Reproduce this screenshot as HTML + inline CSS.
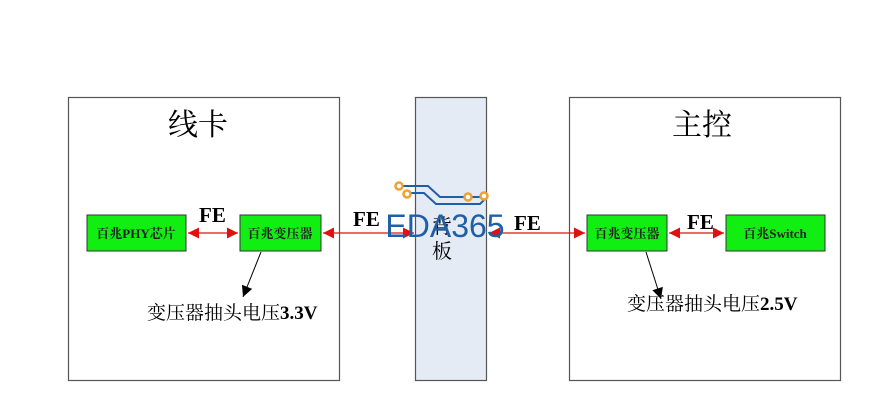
<!DOCTYPE html>
<html><head><meta charset="utf-8"><style>
html,body{margin:0;padding:0;background:#fff;width:894px;height:419px;overflow:hidden}
svg{display:block}
text{font-family:"Liberation Serif","Noto Serif CJK SC",serif}
</style></head><body>
<svg width="894" height="419" viewBox="0 0 894 419" xmlns="http://www.w3.org/2000/svg">
<defs>
<marker id="r" viewBox="0 0 10 10" refX="10" refY="5" markerWidth="14" markerHeight="11" markerUnits="userSpaceOnUse" orient="auto-start-reverse"><path d="M0,0L10,5L0,10z" fill="#e01010"/></marker>
<marker id="b" viewBox="0 0 10 10" refX="10" refY="5" markerWidth="13" markerHeight="11" markerUnits="userSpaceOnUse" orient="auto"><path d="M0,0L10,5L0,10z" fill="#000"/></marker>
</defs>
<rect x="68.5" y="97.5" width="271" height="283" fill="#fff" stroke="#555" stroke-width="1.2"/>
<rect x="569.5" y="97.5" width="271" height="283" fill="#fff" stroke="#555" stroke-width="1.2"/>
<rect x="415.5" y="97.5" width="71" height="283" fill="#e4ebf5" stroke="#555" stroke-width="1.2"/>
<text x="198" y="135" font-size="30" text-anchor="middle">线卡</text>
<text x="702" y="135" font-size="30" text-anchor="middle">主控</text>
<text x="442" y="233" font-size="20" text-anchor="middle">背</text>
<text x="442" y="258" font-size="20" text-anchor="middle">板</text>
<g stroke="#333" stroke-width="1">
<rect x="87" y="215" width="99" height="36" fill="#11ee11"/>
<rect x="240" y="215" width="81" height="36" fill="#11ee11"/>
<rect x="587" y="215" width="80" height="36" fill="#11ee11"/>
<rect x="726" y="215" width="99" height="36" fill="#11ee11"/>
</g>
<g font-size="13" font-weight="bold" text-anchor="middle" fill="#222">
<text x="136" y="238">百兆PHY芯片</text>
<text x="280" y="238">百兆变压器</text>
<text x="627" y="238">百兆变压器</text>
<text x="775" y="238">百兆Switch</text>
</g>
<g stroke="#e01010" stroke-width="1.2" fill="none">
<line x1="188" y1="233" x2="238" y2="233" marker-start="url(#r)" marker-end="url(#r)"/>
<line x1="323" y1="233" x2="414" y2="233" marker-start="url(#r)" marker-end="url(#r)"/>
<line x1="489" y1="233" x2="585" y2="233" marker-start="url(#r)" marker-end="url(#r)"/>
<line x1="669" y1="233" x2="724" y2="233" marker-start="url(#r)" marker-end="url(#r)"/>
</g>
<g font-size="21" font-weight="bold">
<text x="199" y="222">FE</text>
<text x="353" y="226">FE</text>
<text x="514" y="230">FE</text>
<text x="687" y="229">FE</text>
</g>
<line x1="261" y1="252" x2="243" y2="297" stroke="#000" stroke-width="1" marker-end="url(#b)"/>
<line x1="646" y1="252" x2="661" y2="299" stroke="#000" stroke-width="1" marker-end="url(#b)"/>
<text x="147" y="319" font-size="19">变压器抽头电压<tspan font-weight="bold">3.3V</tspan></text>
<text x="627" y="310" font-size="19">变压器抽头电压<tspan font-weight="bold">2.5V</tspan></text>
<g fill="none" stroke="#1f5fa8" stroke-width="2">
<path d="M399,186H428L440,197H486"/>
<path d="M407,193H424L436,204H480L486,198"/>
</g>
<g fill="#fff" stroke="#f0a030" stroke-width="2.5">
<circle cx="399" cy="186" r="3.5"/><circle cx="407" cy="194" r="3.5"/>
<circle cx="468" cy="197" r="3.5"/><circle cx="484" cy="196" r="3.5"/>
</g>
<text x="445" y="237" font-size="32" text-anchor="middle" fill="#1f5fa8" style="font-family:'Liberation Sans',sans-serif">EDA365</text>
</svg>
</body></html>
